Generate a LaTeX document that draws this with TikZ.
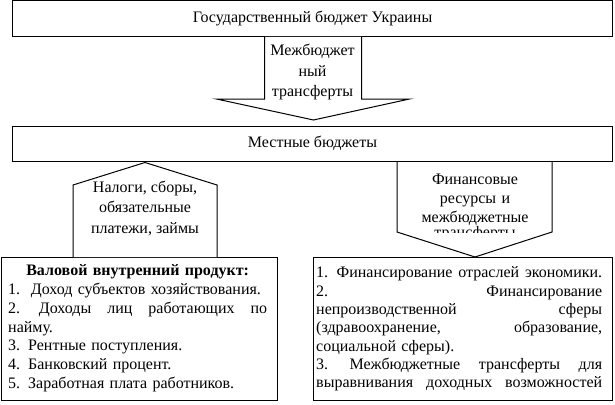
\documentclass[tikz,border=0pt]{standalone}
\usepackage{fontspec}
\setmainfont{Liberation Serif}
\begin{document}
\begin{tikzpicture}[x=1pt,y=-1pt,
  box/.style={draw, line width=1pt, inner sep=0, anchor=north west,
    font=\fontsize{16pt}{18.4pt}\selectfont},
  arrowshape/.style={draw, fill=white, line width=1pt, line join=miter},
  arrtxt/.style={inner sep=0, align=center, font=\fontsize{16pt}{20.3pt}\selectfont},
  listtxt/.style={inner sep=0, anchor=north west, align=left}]
\useasboundingbox (0,0) rectangle (615,404);

% boxes
\node[box, minimum width=600pt, minimum height=35.5pt] (state) at (12,0.5) {Государственный бюджет Украины};
\node[box, minimum width=600pt, minimum height=35.5pt] (local) at (12,125.5) {Местные бюджеты};
\node[box, minimum width=276pt, minimum height=143pt] (gdp) at (1,257) {};
\node[box, minimum width=299pt, minimum height=143pt] (res) at (313,257) {};

% down arrow: state -> local
\draw[arrowshape] ([xshift=-48pt]state.south)
  -- ([xshift=-48pt,yshift=26.5pt]local.north)
  -- ([xshift=-96pt,yshift=26.5pt]local.north)
  -- ([xshift=1pt,yshift=5.5pt]local.north)
  -- ([xshift=97pt,yshift=26.5pt]local.north)
  -- ([xshift=49pt,yshift=26.5pt]local.north)
  -- ([xshift=49pt]state.south);
\node[arrtxt] (transfer) at (312.5,72) {Межбюджет\\ный\\трансферты};

% up arrow: gdp -> local
\draw[arrowshape] ([xshift=72pt]gdp.north west)
  -- ([xshift=72pt,yshift=72pt]gdp.north west)
  -- ([xshift=133pt,yshift=-0.5pt]local.south west)
  -- ([xshift=216pt,yshift=72pt]gdp.north west)
  -- ([xshift=216pt]gdp.north west);
\node[arrtxt] (taxes) at (145,208.5) {Налоги, сборы,\\обязательные\\платежи, займы};

% down arrow: local -> res
\draw[arrowshape] ([xshift=385pt]local.south west)
  -- ([xshift=84pt,yshift=25pt]res.north west)
  -- ([xshift=162pt]res.north west)
  -- ([xshift=239pt,yshift=25pt]res.north west)
  -- ([xshift=540pt]local.south west);
\begin{scope}
  \clip (397.5,162) rectangle (551.5,232.8);
  \node[inner sep=0, anchor=base, text width=150pt, align=center,
    font=\fontsize{16pt}{19.2pt}\selectfont] (finance) at (475,184.4)
    {Финансовые\\ресурсы и\\межбюджетные\\[-5pt]трансферты};
\end{scope}

% list texts
\node[listtxt, text width=259pt, font=\fontsize{16pt}{18.8pt}\selectfont] (gdptext) at (8,264.5) {%
\makebox[259pt]{\bfseries Валовой внутренний продукт:}\\
1.\ \ Доход субъектов хозяйствования.\\
\makebox[259pt]{2. \hfill Доходы \hfill лиц \hfill работающих \hfill по}\\
найму.\\
3. Рентные поступления.\\
4. Банковский процент.\\
5. Заработная плата работников.};

\node[listtxt, text width=286pt, font=\fontsize{16pt}{18.35pt}\selectfont] (restext) at (316,266.5) {%
\makebox[286pt]{1. \hfill Финансирование \hfill отраслей \hfill экономики.}\\
\makebox[286pt]{2. \hfill Финансирование}\\
\makebox[286pt]{непроизводственной \hfill сферы}\\
\makebox[286pt]{(здравоохранение, \hfill образование,}\\
социальной сферы).\\
\makebox[286pt]{3. \hfill Межбюджетные \hfill трансферты \hfill для}\\
\makebox[286pt]{выравнивания \hfill доходных \hfill возможностей}};
\end{tikzpicture}
\end{document}
